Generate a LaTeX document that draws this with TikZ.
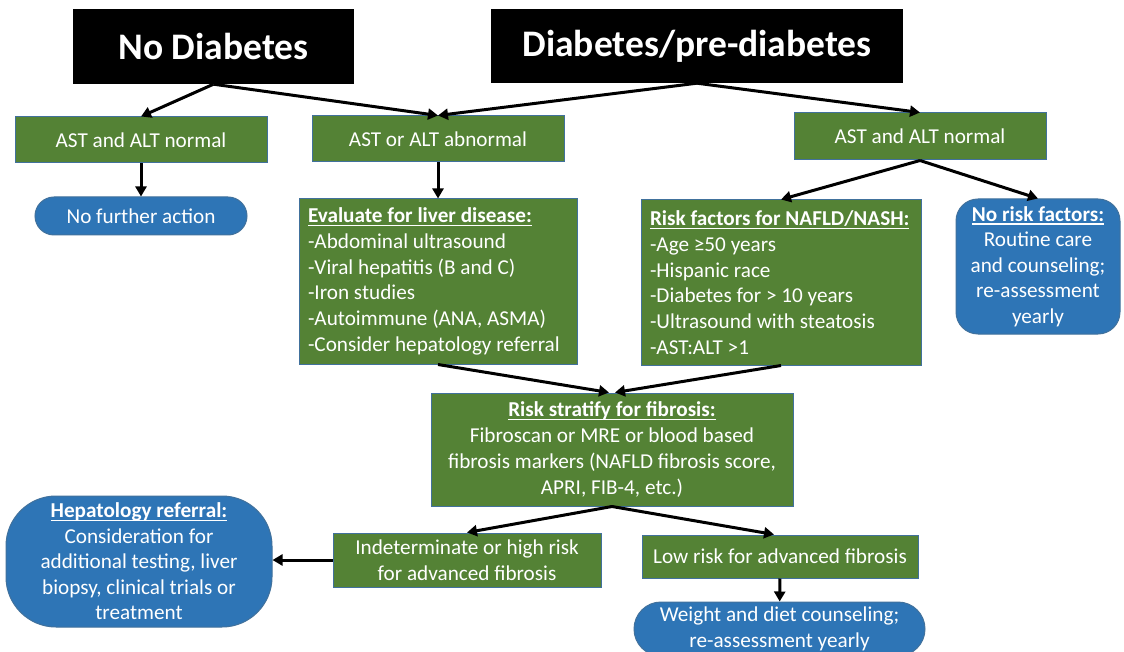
\documentclass[tikz,border=0pt]{standalone}
\usepackage{fontspec}
\setmainfont{Carlito}
\usetikzlibrary{arrows.meta}
\definecolor{boxgreen}{RGB}{84,130,53}
\definecolor{edgeblue}{RGB}{65,113,156}
\definecolor{pillblue}{RGB}{46,117,182}
\newsavebox{\headbox}
\newcommand{\boxhead}[1]{\sbox{\headbox}{\textbf{#1}}\rlap{\rule[-3.5pt]{\wd\headbox}{1.3pt}}\usebox{\headbox}}

\begin{document}
\begin{tikzpicture}[x=1pt,y=-1pt,
    flow/.style={-{Triangle[length=10pt,width=11pt]},line width=3pt},
    titlebox/.style={fill=black,text=white,inner sep=0pt,
        font=\bfseries\fontsize{37.5}{45}\selectfont},
    greenbox/.style={fill=boxgreen,draw=edgeblue,line width=1pt,text=white,
        inner sep=0pt,align=center,font=\fontsize{21.2}{25.7}\selectfont},
    listbox/.style={greenbox,align=flush left,inner xsep=9pt},
    bluebox/.style={fill=pillblue,draw=edgeblue,line width=1pt,text=white,
        inner sep=0pt,align=center,font=\fontsize{21.2}{25.5}\selectfont}]
\path[use as bounding box] (0,0) rectangle (1124,652);
\clip (0,0) rectangle (1124,652);
\fill[white] (0,0) rectangle (1124,652);

% top row
\node[titlebox,minimum width=281pt,minimum height=75pt] (nodiab) at (213.5,46.5) {No Diabetes};
\node[titlebox,minimum width=412pt,minimum height=74pt] (diab) at (697,46) {Diabetes/pre-diabetes};

% liver enzymes
\node[greenbox,minimum width=252pt,minimum height=46pt] (astl) at (141,140) {AST and ALT normal};
\node[greenbox,minimum width=252pt,minimum height=46pt] (astab) at (438,139) {AST or ALT abnormal};
\node[greenbox,minimum width=252pt,minimum height=47pt] (astr) at (920,136.5) {AST and ALT normal};

\node[bluebox,rounded corners=19pt,minimum width=212pt,minimum height=38pt] (nofurther) at (141,216) {No further action};

\node[listbox,text width=260pt,minimum height=165pt] (evaluate) at (438,281.5)
    {\boxhead{Evaluate for liver disease:}\\-Abdominal ultrasound\\-Viral hepatitis (B and C)\\-Iron studies\\-Autoimmune (ANA, ASMA)\\-Consider hepatology referral};
\node[listbox,text width=262pt,minimum height=165pt] (riskfac) at (781,282.5)
    {\boxhead{Risk factors for NAFLD/NASH:}\\-Age ≥50 years\\-Hispanic race\\-Diabetes for > 10 years\\-Ultrasound with steatosis\\-AST:ALT >1};
\node[bluebox,rounded corners=22pt,minimum width=164pt,minimum height=135pt] (norisk) at (1038,266.5)
    {\boxhead{No risk factors:}\\Routine care\\and counseling;\\re-assessment\\yearly};

% fibrosis
\node[greenbox,minimum width=362pt,minimum height=113pt] (stratify) at (612,449.5)
    {\boxhead{Risk stratify for fibrosis:}\\Fibroscan or MRE or blood based\\fibrosis markers (NAFLD fibrosis score,\\APRI, FIB-4, etc.)};
\node[greenbox,minimum width=268pt,minimum height=54pt] (indet) at (467,560)
    {Indeterminate or high risk\\for advanced fibrosis};
\node[greenbox,minimum width=276pt,minimum height=43pt] (lowrisk) at (780,556.5) {Low risk for advanced fibrosis};
\node[bluebox,rounded corners=50pt,minimum width=266pt,minimum height=131pt] (hepat) at (139,561.5)
    {\boxhead{Hepatology referral:}\\Consideration for\\additional testing, liver\\biopsy, clinical trials or\\treatment};
\node[bluebox,rounded corners=27pt,minimum width=291pt,minimum height=54pt] (weight) at (779.5,629)
    {Weight and diet counseling;\\re-assessment yearly};

% arrows
\draw[flow] (nodiab.south) -- (astl.north);
\draw[flow] (nodiab.south) -- (astab.north);
\draw[flow] (diab.south) -- (astab.north);
\draw[flow] (diab.south) -- (astr.north);
\draw[flow] (astl) -- (nofurther);
\draw[flow] (astab) -- (evaluate);
\draw[flow] (astr.south) -- (riskfac.north);
\draw[flow] (astr.south) -- (norisk.north);
\draw[flow] (evaluate.south) -- ([xshift=-3pt]stratify.north);
\draw[flow] (riskfac.south) -- ([xshift=3pt]stratify.north);
\draw[flow] (stratify.south) -- (indet.north);
\draw[flow] (stratify.south) -- ([xshift=-6pt]lowrisk.north);
\draw[flow] (indet.west) -- (indet.west -| hepat.east);
\draw[flow] (lowrisk) -- (weight);
\end{tikzpicture}
\end{document}
